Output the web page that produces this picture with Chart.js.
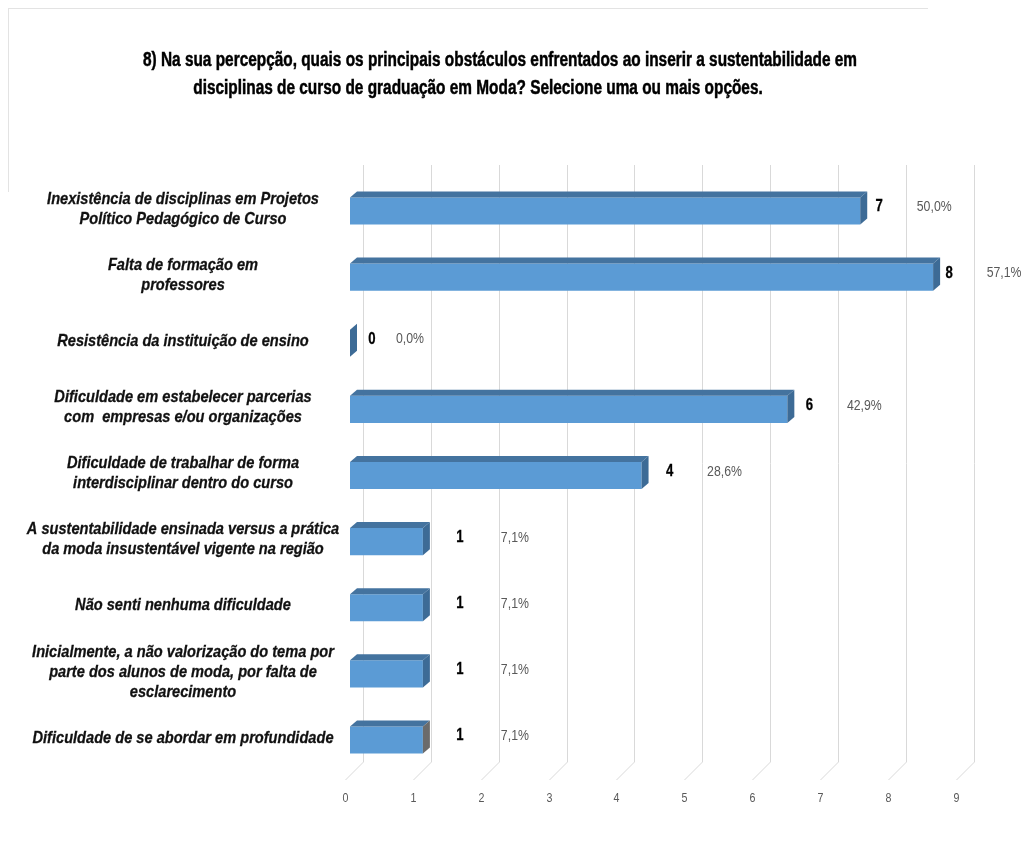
<!DOCTYPE html>
<html>
<head>
<meta charset="utf-8">
<script src="https://cdn.jsdelivr.net/npm/chart.js@4.4.0/dist/chart.umd.min.js"></script>
<style>
  body { margin: 0; background: #fff; }
  canvas { display: block; }
</style>
</head>
<body>
<canvas id="chart" width="1029" height="859"></canvas>
<script>
// data
const titleLines = [
    "8) Na sua percepção, quais os principais obstáculos enfrentados ao inserir a sustentabilidade em",
    "disciplinas de curso de graduação em Moda? Selecione uma ou mais opções."
]
const categories = [
    ["Inexistência de disciplinas em Projetos", "Político Pedagógico de Curso"],
    ["Falta de formação em", "professores"],
    ["Resistência da instituição de ensino"],
    ["Dificuldade em estabelecer parcerias", "com  empresas e/ou organizações"],
    ["Dificuldade de trabalhar de forma", "interdisciplinar dentro do curso"],
    ["A sustentabilidade ensinada versus a prática", "da moda insustentável vigente na região"],
    ["Não senti nenhuma dificuldade"],
    ["Inicialmente, a não valorização do tema por", "parte dos alunos de moda, por falta de", "esclarecimento"],
    ["Dificuldade de se abordar em profundidade"]
]
const counts = [7, 8, 0, 6, 4, 1, 1, 1, 1]
const percents = ["50,0%", "57,1%", "0,0%", "42,9%", "28,6%", "7,1%", "7,1%", "7,1%", "7,1%"]
const axisTicks = [0, 1, 2, 3, 4, 5, 6, 7, 8, 9]

// the source picture is squeezed sideways, so text is drawn narrowed
const FONT = "'Liberation Sans', Arial, sans-serif"
const TITLE_FONT = "bold 20px " + FONT
const LABEL_FONT = "italic bold 17px " + FONT
const SMALL_SX = 0.82
const FRONT = "#5b9bd5"
const TOP = "#44739f"
const SIDE = "#3d6b96"
const DX = 7
const DY = 6

function squeezeFor(ctx, font, text, width) {
    ctx.font = font
    return width / ctx.measureText(text).width
}

function fillSqueezed(ctx, text, x, y, sx, heavy) {
    ctx.save()
    ctx.translate(x, y)
    ctx.scale(sx, 1)
    ctx.fillText(text, 0, 0)
    if (heavy) {
        ctx.lineWidth = heavy
        ctx.strokeStyle = ctx.fillStyle
        ctx.strokeText(text, 0, 0)
    }
    ctx.restore()
}

// gridlines sit on a back wall, a bit narrower and shifted right of the bars
const toBack = (xs, v) => xs.left + 13 + (xs.getPixelForValue(v) - xs.left) * 0.931

const backWall = {
    id: "backWall",
    beforeDatasetsDraw(chart) {
        const { ctx, chartArea } = chart
        const xs = chart.scales.x
        ctx.save()
        ctx.strokeStyle = "#d9d9d9"
        ctx.lineWidth = 1
        ctx.fillStyle = "#595959"
        ctx.font = "13px " + FONT
        ctx.textAlign = "center"
        ctx.textBaseline = "middle"
        axisTicks.forEach(v => {
            const bx = Math.round(toBack(xs, v)) + 0.5
            ctx.beginPath()
            ctx.moveTo(bx, chartArea.top - 13)
            ctx.lineTo(bx, chartArea.bottom - 11)
            ctx.lineTo(bx - 18, chartArea.bottom + 7)
            ctx.stroke()
            fillSqueezed(ctx, String(v), bx - 18, chartArea.bottom + 25, SMALL_SX)
        })
        ctx.restore()
    }
}

const categoryLabels = {
    id: "categoryLabels",
    afterDraw(chart) {
        const { ctx } = chart
        const ys = chart.scales.y
        ctx.save()
        const sx = squeezeFor(ctx, LABEL_FONT, "Dificuldade de se abordar em profundidade", 301)
        ctx.fillStyle = "#111"
        ctx.textAlign = "center"
        ctx.textBaseline = "middle"
        categories.forEach((lines, i) => {
            const cy = ys.getPixelForTick(i) - 2
            const y0 = cy - (lines.length - 1) * 10
            lines.forEach((line, k) => fillSqueezed(ctx, line, 183, y0 + k * 20, sx, 0.3))
        })
        ctx.restore()
    }
}

const bars3d = {
    id: "bars3d",
    afterDatasetsDraw(chart) {
        const { ctx } = chart
        const meta = chart.getDatasetMeta(0)
        ctx.save()
        meta.data.forEach((el, i) => {
            const { x, y, base, height } = el.getProps(["x", "y", "base", "height"], true)
            const top = y - height / 2
            const bottom = y + height / 2

            ctx.fillStyle = TOP
            ctx.beginPath()
            ctx.moveTo(base, top)
            ctx.lineTo(base + DX, top - DY)
            ctx.lineTo(x + DX, top - DY)
            ctx.lineTo(x, top)
            ctx.closePath()
            ctx.fill()

            ctx.fillStyle = i === counts.length - 1 ? "#6b6b6b" : SIDE
            ctx.beginPath()
            ctx.moveTo(x, top)
            ctx.lineTo(x + DX, top - DY)
            ctx.lineTo(x + DX, bottom - DY)
            ctx.lineTo(x, bottom)
            ctx.closePath()
            ctx.fill()

            const v = counts[i]
            const numX = x + (v === 0 ? 22 : 40 - 3 * v)
            const pctX = numX + (v === 0 ? 38 : 55)
            ctx.textAlign = "center"
            ctx.textBaseline = "middle"
            ctx.fillStyle = "#000"
            ctx.font = "bold 16px " + FONT
            fillSqueezed(ctx, String(v), numX, y - 4, SMALL_SX, 0.3)
            ctx.fillStyle = "#595959"
            ctx.font = "15px " + FONT
            fillSqueezed(ctx, percents[i], pctX, y - 4, SMALL_SX)
        })
        ctx.restore()
    }
}

const frame = {
    id: "frame",
    afterDraw(chart) {
        const { ctx } = chart
        ctx.save()
        ctx.strokeStyle = "#e3e3e3"
        ctx.lineWidth = 1
        ctx.beginPath()
        ctx.moveTo(8, 8.5)
        ctx.lineTo(928, 8.5)
        ctx.moveTo(8.5, 8)
        ctx.lineTo(8.5, 192)
        ctx.stroke()

        const sx = squeezeFor(ctx, TITLE_FONT, titleLines[0], 714)
        ctx.fillStyle = "#000"
        ctx.textAlign = "center"
        ctx.textBaseline = "middle"
        fillSqueezed(ctx, titleLines[0], 500, 60, sx, 0.5)
        fillSqueezed(ctx, titleLines[1], 478, 88, sx, 0.5)
        ctx.restore()
    }
}

new Chart(document.getElementById("chart"), {
    type: "bar",
    data: {
        labels: categories,
        datasets: [{
            data: counts,
            backgroundColor: FRONT,
            borderWidth: 0,
            barPercentage: 1,
            categoryPercentage: 0.41
        }]
    },
    options: {
        indexAxis: "y",
        responsive: false,
        animation: false,
        devicePixelRatio: 1,
        layout: { padding: { left: 20, right: 23, top: 178, bottom: 86 } },
        plugins: {
            legend: { display: false },
            tooltip: { enabled: false },
            title: { display: false }
        },
        scales: {
            x: { display: false, min: 0, max: 9 },
            y: {
                grid: { display: false },
                border: { display: false },
                ticks: { display: false },
                afterFit(scale) { scale.width = 330 }
            }
        }
    },
    plugins: [backWall, bars3d, categoryLabels, frame]
})
</script>
</body>
</html>
